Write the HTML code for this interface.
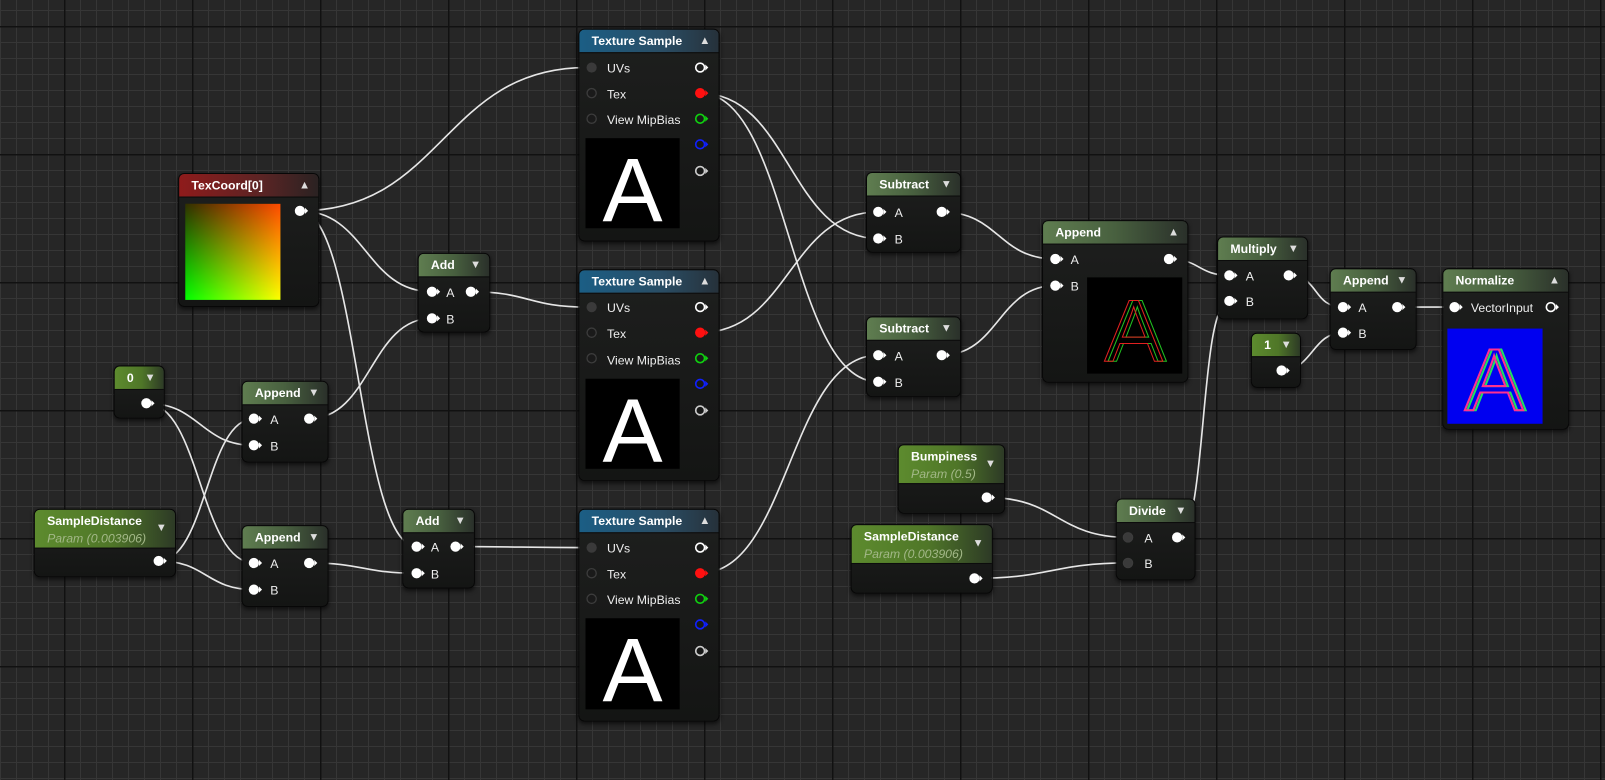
<!DOCTYPE html>
<html><head><meta charset="utf-8">
<style>
html,body{margin:0;padding:0;width:1605px;height:780px;overflow:hidden;}
body{background-color:#262626;
background-image:
linear-gradient(to right,#111 0,#111 1.5px,transparent 1.5px),
linear-gradient(to bottom,#111 0,#111 1.5px,transparent 1.5px),
linear-gradient(to right,#363636 0,#363636 1px,transparent 1px),
linear-gradient(to bottom,#363636 0,#363636 1px,transparent 1px);
background-size:128px 128px,128px 128px,16px 16px,16px 16px;
background-position:64px 0,0 26px,0 0,0 10px;
font-family:"Liberation Sans",sans-serif;}
#w{position:absolute;left:0;top:0;width:1568px;height:762px;transform:scale(1.02360);transform-origin:0 0;}
svg{position:absolute;left:0;top:0;}
.n{position:absolute;background:linear-gradient(#1e1f1e,#141514);border:1px solid #070707;border-radius:6px;box-shadow:0 2px 4px rgba(0,0,0,.6);overflow:hidden;color:#fff;font-size:12px;}
.h{position:absolute;left:0;top:0;right:0;height:23px;font-weight:bold;line-height:23px;padding-left:12px;box-sizing:border-box;border-bottom:1px solid #0c0c0c;}
.h .t{position:absolute;right:8px;top:0;font-size:11px;color:#ddd;}
.hr{background:linear-gradient(to right,#8f1b1b,#5a2424 60%,#2a2222);}
.hb{background:linear-gradient(to right,#1b5e85,#2a4d64 60%,#26313a);}
.ha{background:linear-gradient(to right,#5f7d50,#48603f 50%,#2a302a);}
.hg{background:linear-gradient(to right,#5d8b2e,#4f7628 55%,#2d3a26);}
.p2{height:38px;line-height:17px;padding-top:3px;}
.p2 i{font-weight:normal;color:#a3b888;font-size:12px;}
.l{position:absolute;height:16px;line-height:16px;font-size:12px;color:#eee;}
.pv{position:absolute;background:#000;overflow:hidden;}
.A{position:absolute;left:0;right:0;text-align:center;font-family:"Liberation Sans",sans-serif;line-height:1;}
</style></head><body>
<div id="w">
<svg width="1568" height="762" id="wires" fill="none" stroke="#e6e6e6" stroke-width="1.6"></svg>

<div class="n" style="left:174px;top:169px;width:136px;height:129px">
<div class="h hr">TexCoord[0]<span class="t">▲</span></div>
<div class="pv" style="left:6px;top:29px;width:93px;height:94px;background:linear-gradient(to bottom,#303000,#00ff00)"><div style="position:absolute;inset:0;background:linear-gradient(to right,rgba(255,0,0,0),#ff2000);mix-blend-mode:screen"></div></div>
</div>
<div class="n" style="left:111px;top:357px;width:48px;height:50px"><div class="h hg">0<span class="t">▼</span></div></div>
<div class="n" style="left:33px;top:497px;width:137px;height:65px"><div class="h hg p2">SampleDistance<br><i>Param (0.003906)</i><span class="t" style="top:10px">▼</span></div></div>
<div class="n" style="left:236px;top:372px;width:83px;height:78px"><div class="h ha">Append<span class="t">▼</span></div>
<div class="l" style="left:27px;top:29px">A</div><div class="l" style="left:27px;top:55px">B</div></div>
<div class="n" style="left:236px;top:513px;width:83px;height:78px"><div class="h ha">Append<span class="t">▼</span></div>
<div class="l" style="left:27px;top:29px">A</div><div class="l" style="left:27px;top:55px">B</div></div>
<div class="n" style="left:408px;top:247px;width:69px;height:76px"><div class="h ha">Add<span class="t">▼</span></div>
<div class="l" style="left:27px;top:30px">A</div><div class="l" style="left:27px;top:56px">B</div></div>
<div class="n" style="left:393px;top:497px;width:69px;height:76px"><div class="h ha">Add<span class="t">▼</span></div>
<div class="l" style="left:27px;top:29px">A</div><div class="l" style="left:27px;top:55px">B</div></div>
<div class="n" style="left:565px;top:28px;width:136px;height:206px"><div class="h hb">Texture Sample<span class="t">▲</span></div>
<div class="l" style="left:27px;top:30px">UVs</div><div class="l" style="left:27px;top:55px">Tex</div><div class="l" style="left:27px;top:80px">View MipBias</div>
<div class="pv" style="left:6px;top:106px;width:92px;height:88px"><div class="A" style="top:7px;font-size:88px;color:#fff">A</div></div></div>
<div class="n" style="left:565px;top:263px;width:136px;height:205px"><div class="h hb">Texture Sample<span class="t">▲</span></div>
<div class="l" style="left:27px;top:29px">UVs</div><div class="l" style="left:27px;top:54px">Tex</div><div class="l" style="left:27px;top:80px">View MipBias</div>
<div class="pv" style="left:6px;top:106px;width:92px;height:88px"><div class="A" style="top:7px;font-size:88px;color:#fff">A</div></div></div>
<div class="n" style="left:565px;top:497px;width:136px;height:206px"><div class="h hb">Texture Sample<span class="t">▲</span></div>
<div class="l" style="left:27px;top:30px">UVs</div><div class="l" style="left:27px;top:55px">Tex</div><div class="l" style="left:27px;top:80px">View MipBias</div>
<div class="pv" style="left:6px;top:106px;width:92px;height:89px"><div class="A" style="top:7px;font-size:88px;color:#fff">A</div></div></div>
<div class="n" style="left:846px;top:168px;width:91px;height:77px"><div class="h ha">Subtract<span class="t">▼</span></div>
<div class="l" style="left:27px;top:31px">A</div><div class="l" style="left:27px;top:57px">B</div></div>
<div class="n" style="left:846px;top:309px;width:91px;height:77px"><div class="h ha">Subtract<span class="t">▼</span></div>
<div class="l" style="left:27px;top:30px">A</div><div class="l" style="left:27px;top:56px">B</div></div>
<div class="n" style="left:1018px;top:215px;width:141px;height:157px"><div class="h ha">Append<span class="t">▲</span></div>
<div class="l" style="left:27px;top:30px">A</div><div class="l" style="left:27px;top:56px">B</div>
<div class="pv" style="left:43px;top:55px;width:93px;height:94px"><div class="A" style="top:10px;left:5px;font-size:86px;color:transparent;-webkit-text-stroke:1px #20c020">A</div><div class="A" style="top:10px;left:-2px;font-size:86px;color:transparent;-webkit-text-stroke:1px #e02020">A</div></div></div>
<div class="n" style="left:1189px;top:231px;width:87px;height:79px"><div class="h ha">Multiply<span class="t">▼</span></div>
<div class="l" style="left:27px;top:30px">A</div><div class="l" style="left:27px;top:55px">B</div></div>
<div class="n" style="left:1299px;top:262px;width:83px;height:78px"><div class="h ha">Append<span class="t">▼</span></div>
<div class="l" style="left:27px;top:30px">A</div><div class="l" style="left:27px;top:55px">B</div></div>
<div class="n" style="left:1222px;top:325px;width:47px;height:52px"><div class="h hg">1<span class="t">▼</span></div></div>
<div class="n" style="left:1409px;top:262px;width:122px;height:156px"><div class="h ha">Normalize<span class="t">▲</span></div>
<div class="l" style="left:27px;top:30px">VectorInput</div>
<div class="pv" style="left:4px;top:58px;width:93px;height:93px;background:#0000f0"><div class="A" style="top:8px;left:3px;font-size:86px;color:transparent;-webkit-text-stroke:2px #20e060">A</div><div class="A" style="top:8px;left:-2px;font-size:86px;color:transparent;-webkit-text-stroke:2px #ff3090">A</div></div></div>
<div class="n" style="left:877px;top:434px;width:103px;height:66px"><div class="h hg p2">Bumpiness<br><i>Param (0.5)</i><span class="t" style="top:10px">▼</span></div></div>
<div class="n" style="left:831px;top:512px;width:137px;height:66px"><div class="h hg p2">SampleDistance<br><i>Param (0.003906)</i><span class="t" style="top:10px">▼</span></div></div>
<div class="n" style="left:1090px;top:487px;width:76px;height:78px"><div class="h ha">Divide<span class="t">▼</span></div>
<div class="l" style="left:27px;top:30px">A</div><div class="l" style="left:27px;top:55px">B</div></div>

<svg width="1568" height="762" id="pins"></svg>
</div>
<script>
var W=[[293,206,573,66],[293,206,422,285],[293,206,407,534],[143,394,248,435],[143,394,248,550],
[155,548,248,409],[155,548,248,576],[302,409,422,311],[302,550,407,560],[460,285,573,300],[445,534,573,535],
[684,91,858,233],[684,91,858,373],[684,325,858,207],[684,560,858,347],[920,207,1031,253],[920,347,1031,279],
[1142,253,1201,269],[1150,525,1201,294],[1259,269,1312,300],[1252,362,1312,325],[1365,300,1421,300],
[964,486,1102,525],[952,565,1102,550]];
var s='';W.forEach(function(w){var dx=Math.abs(w[2]-w[0]);var t=Math.max(dx*0.5,30);
s+='<path d="M'+w[0]+' '+w[1]+' C'+(w[0]+t)+' '+w[1]+' '+(w[2]-t)+' '+w[3]+' '+w[2]+' '+w[3]+'"/>';});
document.getElementById('wires').innerHTML=s;
function fp(x,y,c){return '<circle cx="'+x+'" cy="'+y+'" r="5" fill="'+c+'"/><path d="M'+(x+5)+' '+(y-3)+' L'+(x+8)+' '+y+' L'+(x+5)+' '+(y+3)+'Z" fill="'+c+'"/>';}
function rp(x,y,c){return '<circle cx="'+x+'" cy="'+y+'" r="4.3" fill="none" stroke="'+c+'" stroke-width="1.6"/><path d="M'+(x+5)+' '+(y-3)+' L'+(x+8)+' '+y+' L'+(x+5)+' '+(y+3)+'Z" fill="'+c+'"/>';}
function dp(x,y){return '<circle cx="'+x+'" cy="'+y+'" r="4.5" fill="#1a1a1a" stroke="#3c3c3c" stroke-width="1.3"/>';}
var p='';
[[293,206],[143,394],[155,548],[248,409],[248,435],[302,409],[248,550],[248,576],[302,550],[422,285],[422,311],[460,285],[407,534],[407,560],[445,534],
[858,207],[858,233],[920,207],[858,347],[858,373],[920,347],[1031,253],[1031,279],[1142,253],[1201,269],[1201,294],[1259,269],[1312,300],[1312,325],[1365,300],[1252,362],[1421,300],[964,486],[952,565],[1150,525]].forEach(function(a){p+=fp(a[0],a[1],'#fff');});
[28,263,497].forEach(function(t,i){var o=[38,37,38][i];var y=t+o;
p+='<circle cx="578" cy="'+y+'" r="5" fill="#3a3a3a"/>'+dp(578,y+25)+dp(578,y+50);
p+=rp(684,y,'#fff')+fp(684,y+25,'#ff1010')+rp(684,y+50,'#10d010')+rp(684,y+75,'#1020ff')+rp(684,y+101,'#ccc');});
p+=dp(1102,525).replace('#1a1a1a','#3a3a3a')+dp(1102,550).replace('#1a1a1a','#3a3a3a');
p+=rp(1515,300,'#fff');
document.getElementById('pins').innerHTML=p;
</script>
</body></html>
